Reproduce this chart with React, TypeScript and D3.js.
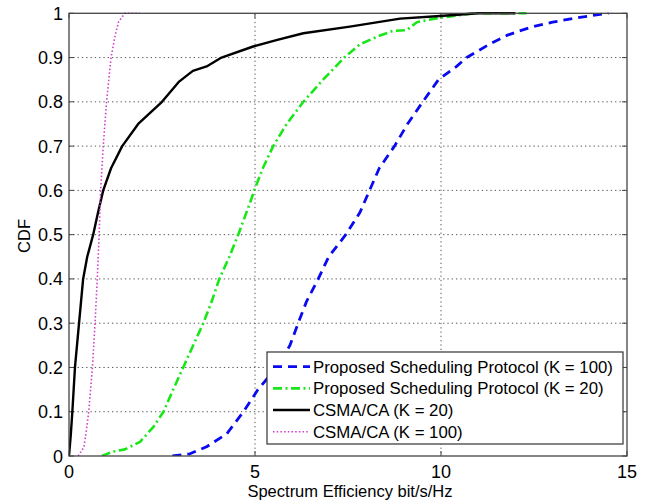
import React from "react";
import * as d3 from "d3";

// ---- data ----
const xTicks = [0, 5, 10, 15];
const yTicks = [0, 0.1, 0.2, 0.3, 0.4, 0.5, 0.6, 0.7, 0.8, 0.9, 1];
const yTickLabels = ["0", "0.1", "0.2", "0.3", "0.4", "0.5", "0.6", "0.7", "0.8", "0.9", "1"];
const xTickLabels = ["0", "5", "10", "15"];

const seriesNames = [
  "Proposed Scheduling Protocol (K = 100)",
  "Proposed Scheduling Protocol (K = 20)",
  "CSMA/CA (K = 20)",
  "CSMA/CA (K = 100)",
];

const proposedK100: [number, number][] = [
  [2.78, 0], [3.25, 0.005], [3.7, 0.021], [4.24, 0.05], [4.69, 0.1], [5.08, 0.15],
  [5.58, 0.2], [5.94, 0.25], [6.16, 0.3], [6.39, 0.35], [6.7, 0.4], [6.98, 0.45],
  [7.44, 0.5], [7.82, 0.55], [8.08, 0.6], [8.34, 0.65], [8.75, 0.7], [9.1, 0.75],
  [9.51, 0.8], [9.93, 0.85], [10.42, 0.88], [10.69, 0.9], [11.3, 0.93], [11.77, 0.95],
  [12.1, 0.96], [12.48, 0.97], [13.0, 0.98], [13.65, 0.99], [14.5, 1],
];

const proposedK20: [number, number][] = [
  [0.88, 0], [1.19, 0.01], [1.5, 0.015], [1.91, 0.032], [2.27, 0.066], [2.54, 0.1],
  [2.8, 0.15], [3.07, 0.2], [3.34, 0.25], [3.61, 0.3], [3.84, 0.35], [4.04, 0.4],
  [4.31, 0.45], [4.55, 0.5], [4.9, 0.58], [4.98, 0.6], [5.21, 0.65], [5.49, 0.7],
  [5.85, 0.75], [6.3, 0.8], [6.83, 0.85], [7.4, 0.9], [7.82, 0.93], [8.36, 0.95],
  [8.7, 0.96], [9.08, 0.962], [9.35, 0.98], [9.97, 0.99], [10.9, 1], [12.3, 1],
];

const csmaK20: [number, number][] = [
  [0, 0], [0.05, 0.05], [0.09, 0.1], [0.16, 0.2], [0.27, 0.3], [0.38, 0.4],
  [0.49, 0.45], [0.65, 0.5], [0.78, 0.55], [0.92, 0.6], [1.13, 0.65], [1.43, 0.7],
  [1.86, 0.75], [2.5, 0.8], [2.95, 0.845], [3.33, 0.87], [3.7, 0.88], [4.1, 0.9],
  [4.95, 0.925], [5.6, 0.94], [6.3, 0.955], [7.55, 0.97], [8.9, 0.988], [9.97, 0.994],
  [11.0, 1], [12.0, 1],
];

const csmaK100: [number, number][] = [
  [0.25, 0], [0.4, 0.02], [0.47, 0.06], [0.53, 0.1], [0.63, 0.2], [0.7, 0.3],
  [0.76, 0.4], [0.81, 0.5], [0.85, 0.6], [0.92, 0.7], [1.01, 0.8], [1.13, 0.9],
  [1.24, 0.95], [1.33, 0.98], [1.5, 1], [1.9, 1],
];

const W = 652;
const H = 503;
const M = { left: 69, right: 627, top: 13.3, bottom: 456 };

export default function App() {
  const x = d3.scaleLinear().domain([0, 15]).range([M.left, M.right]);
  const y = d3.scaleLinear().domain([0, 1]).range([M.bottom, M.top]);
  const line = d3
    .line<[number, number]>()
    .x((d) => x(d[0]))
    .y((d) => y(d[1]));

  const styles = [
    { data: proposedK100, stroke: "#0a0af0", width: 2.8, dash: "9,6" },
    { data: proposedK20, stroke: "#19e619", width: 2.6, dash: "9,3.5,2,3.5" },
    { data: csmaK20, stroke: "#000000", width: 2.4, dash: "" },
    { data: csmaK100, stroke: "#cc3fcc", width: 1.6, dash: "1.5,2.2" },
  ];

  const font = "'Liberation Sans', Arial, sans-serif";
  const axisColor = "#444";
  const gridColor = "#555";
  const tickLen = 5;

  const legX = 267, legY = 352, legW = 356, legH = 92;
  const rowY = [366.7, 388.4, 410, 431.7];

  return (
    <svg width={W} height={H} style={{ position: "absolute", left: 0, top: 0, background: "#fff" }}>
      <defs>
        <clipPath id="plotclip">
          <rect x={M.left} y={M.top - 2} width={M.right - M.left} height={M.bottom - M.top + 2} />
        </clipPath>
      </defs>
      <rect x={0} y={0} width={W} height={H} fill="#fff" />
      {/* grid */}
      {xTicks.slice(1, -1).map((t) => (
        <line key={"gx" + t} x1={x(t)} x2={x(t)} y1={M.top} y2={M.bottom}
          stroke={gridColor} strokeWidth={1} strokeDasharray="1.3,3" />
      ))}
      {yTicks.slice(1, -1).map((t) => (
        <line key={"gy" + t} x1={M.left} x2={M.right} y1={y(t)} y2={y(t)}
          stroke={gridColor} strokeWidth={1} strokeDasharray="1.3,3" />
      ))}
      {/* ticks */}
      {xTicks.map((t) => (
        <g key={"tx" + t}>
          <line x1={x(t)} x2={x(t)} y1={M.bottom} y2={M.bottom - tickLen} stroke={axisColor} />
          <line x1={x(t)} x2={x(t)} y1={M.top} y2={M.top + tickLen} stroke={axisColor} />
        </g>
      ))}
      {yTicks.map((t) => (
        <g key={"ty" + t}>
          <line x1={M.left} x2={M.left + tickLen} y1={y(t)} y2={y(t)} stroke={axisColor} />
          <line x1={M.right} x2={M.right - tickLen} y1={y(t)} y2={y(t)} stroke={axisColor} />
        </g>
      ))}
      {/* series */}
      <g clipPath="url(#plotclip)">
        {styles.map((s, i) => (
          <path key={i} d={line(s.data) || ""} fill="none" stroke={s.stroke}
            strokeWidth={s.width} strokeDasharray={s.dash || undefined}
            strokeLinejoin="round" />
        ))}
      </g>
      {/* frame */}
      <rect x={M.left} y={M.top} width={M.right - M.left} height={M.bottom - M.top}
        fill="none" stroke={axisColor} strokeWidth={1.3} />
      {/* tick labels */}
      {xTicks.map((t, i) => (
        <text key={"lx" + t} x={x(t)} y={478} textAnchor="middle"
          fontFamily={font} fontSize={18} fill="#000">{xTickLabels[i]}</text>
      ))}
      {yTicks.map((t, i) => (
        <text key={"ly" + t} x={63} y={y(t) + 6.5} textAnchor="end"
          fontFamily={font} fontSize={18} fill="#000">{yTickLabels[i]}</text>
      ))}
      {/* axis labels */}
      <text x={(M.left + M.right) / 2 + 2} y={497} textAnchor="middle"
        fontFamily={font} fontSize={16.5} fill="#000">Spectrum Efficiency bit/s/Hz</text>
      <text transform={`translate(30,236) rotate(-90)`} textAnchor="middle"
        fontFamily={font} fontSize={16.5} fill="#000">CDF</text>
      {/* legend */}
      <rect x={legX} y={legY} width={legW} height={legH} fill="#fff" stroke="#333" strokeWidth={1.2} />
      {styles.map((s, i) => (
        <g key={"leg" + i}>
          <line x1={273} x2={310} y1={rowY[i]} y2={rowY[i]} stroke={s.stroke}
            strokeWidth={s.width} strokeDasharray={s.dash || undefined} />
          <text x={313} y={rowY[i] + 6} fontFamily={font} fontSize={16.8} fill="#000">
            {seriesNames[i]}
          </text>
        </g>
      ))}
    </svg>
  );
}
